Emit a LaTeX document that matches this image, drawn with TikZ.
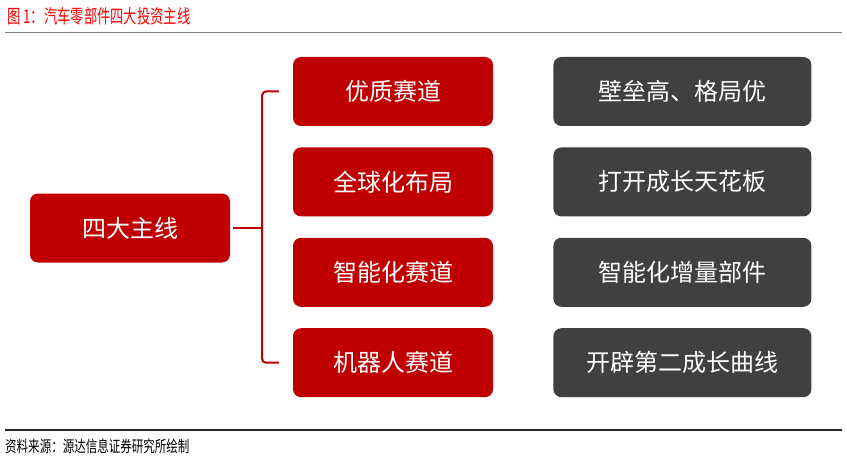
\documentclass[tikz,border=0pt]{standalone}
\usepackage{fontspec}
\setmainfont{Noto Sans CJK SC}
\usepackage{xcolor}
\usetikzlibrary{positioning}

\definecolor{hdred}{HTML}{C00000}
\definecolor{hdgray}{HTML}{404040}

\begin{document}
\begin{tikzpicture}[x=1pt, y=-1pt, node distance=21pt and 60pt]
        \tikzset{
                basic/.style = {rectangle, rounded corners=8pt, text=white, align=center,
                                minimum height=69pt, font=\fontsize{24}{28}\selectfont},
                mainbox/.style = {basic, fill=hdred, minimum width=200pt},
                redbox/.style  = {basic, fill=hdred, minimum width=200pt},
                graybox/.style = {basic, fill=hdgray, minimum width=258pt},
                brc/.style     = {draw=hdred, line width=2pt, rounded corners=4pt}
        }
        \useasboundingbox (0,0) rectangle (847,460);

        % title and rules
        \node[anchor=west, text=red, inner sep=0pt, font=\fontsize{19}{22}\selectfont] (title) at (7,16)
                {\scalebox{0.7}[1]{图 1：汽车零部件四大投资主线}};
        \draw[gray, line width=1pt] (5,33) -- (842,33);
        \draw[black!85, line width=1.2pt] (5,430) -- (842,430);
        \node[anchor=west, inner sep=0pt, font=\fontsize{16}{19}\selectfont] (src) at (5,446)
                {\scalebox{0.72}[1]{资料来源：源达信息证券研究所绘制}};

        % root
        \node[mainbox] (root) at (130,228) {四大主线};

        % the four lines, relatively positioned
        \node[redbox] (r1) at (393,91.5) {优质赛道};
        \node[redbox, below=of r1] (r2) {全球化布局};
        \node[redbox, below=of r2] (r3) {智能化赛道};
        \node[redbox, below=of r3] (r4) {机器人赛道};

        % the reasons next to them
        \node[graybox, right=of r1] (g1) {壁垒高、格局优};
        \node[graybox, right=of r2] (g2) {打开成长天花板};
        \node[graybox, right=of r3] (g3) {智能化增量部件};
        \node[graybox, right=of r4] (g4) {开辟第二成长曲线};

        % brace from the root to the four lines
        \coordinate (fork) at (262,228);
        \draw[brc] ([xshift=3pt]root.east) -- (fork);
        \draw[brc] ([xshift=-14pt]r1.west) -| (fork) |- ([xshift=-14pt]r4.west);

\end{tikzpicture}
\end{document}
